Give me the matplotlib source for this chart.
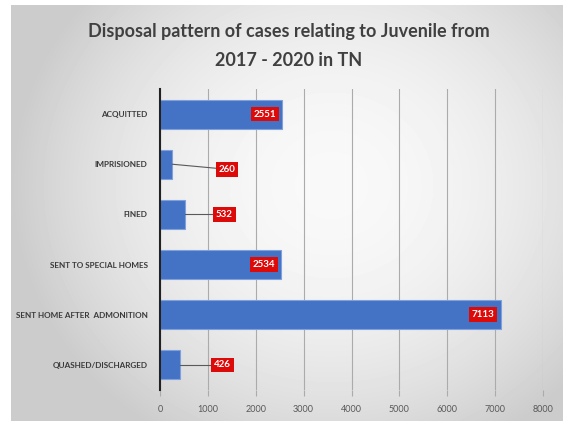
import numpy as np
import matplotlib.pyplot as plt

categories = ["ACQUITTED", "IMPRISIONED", "FINED", "SENT TO SPECIAL HOMES",
              "SENT HOME AFTER  ADMONITION", "QUASHED/DISCHARGED"]
values = [2551, 260, 532, 2534, 7113, 426]
x_ticks = [0, 1000, 2000, 3000, 4000, 5000, 6000, 7000, 8000]
title_lines = ["Disposal pattern of cases relating to Juvenile from", "2017 - 2020 in TN"]

W, H = 563, 421
fig = plt.figure(figsize=(W / 100, H / 100), dpi=100)
fig.patch.set_facecolor("white")

# soft radial backdrop of the chart panel
bg = fig.add_axes([11 / W, 0, (W - 11) / W, (H - 5) / H], zorder=-5)
ny, nx = H - 5, W - 11
yy, xx = np.mgrid[0:ny, 0:nx]
d2 = ((xx - 320) / 340.0) ** 2 + ((yy - 180) / 310.0) ** 2
g = np.clip(0.975 - 0.2 * d2, 0.80, 1)
bg.imshow(g, cmap="gray", vmin=0, vmax=1, aspect="auto", interpolation="bilinear")
bg.axis("off")

ax = fig.add_axes([160 / W, 1 - 390 / H, 383 / W, 301 / H])
ax.set_facecolor("none")
ypos = np.arange(len(categories))
ax.barh(ypos, values, height=0.58, color="#4472c4", edgecolor="#7ea1dd",
        linewidth=0.8, zorder=2)
ax.set_ylim(len(categories) - 0.5, -0.5)
ax.set_xlim(0, 8000)
ax.set_xticks(x_ticks)
ax.set_yticks(ypos)
ax.set_yticklabels(categories, fontfamily="Lato", fontweight="bold",
                   fontsize=5.9, color="#3a3a3a")
for lbl in ax.get_xticklabels():
    lbl.set_fontfamily("Lato")
ax.grid(axis="x", color="#ababab", linewidth=0.8, zorder=0)
ax.set_axisbelow(True)
for s in ["top", "right", "bottom"]:
    ax.spines[s].set_visible(False)
ax.spines["left"].set_color("#222222")
ax.spines["left"].set_linewidth(1.5)
ax.spines["left"].set_zorder(3)
ax.tick_params(axis="x", length=4, color="#ababab", labelsize=6.5,
               labelcolor="#595959", pad=7)
ax.tick_params(axis="y", length=0, pad=9)

px = 8000 / 383.0  # data units per pixel
box = dict(boxstyle="square,pad=0.3", facecolor="#dd0a0a", edgecolor="none")
label_style = dict(fontfamily="Lato", fontweight="bold", fontsize=7,
                   color="white", va="center", zorder=5, bbox=box)

# outside label offsets (data x of label centre, y shift)
outside = {1: (1400, 0.1), 2: (1340, 0.0), 5: (1300, 0.0)}
for i, v in enumerate(values):
    if i in outside:
        lx, dy = outside[i]
        ly = i + dy
        ax.plot([v, lx], [i, ly], color="#595959", linewidth=0.8, zorder=4)
        ax.text(lx, ly, str(v), ha="center", **label_style)
    else:
        ax.text(v - 6 * px, i, str(v), ha="right", **label_style)

for k, line in enumerate(title_lines):
    fig.text(289 / W, 1 - (32 + 28 * k) / H, line, ha="center", va="center",
             fontfamily="Lato", fontweight="bold", fontsize=13, color="#404040")

fig.savefig("out.png", dpi=100)
